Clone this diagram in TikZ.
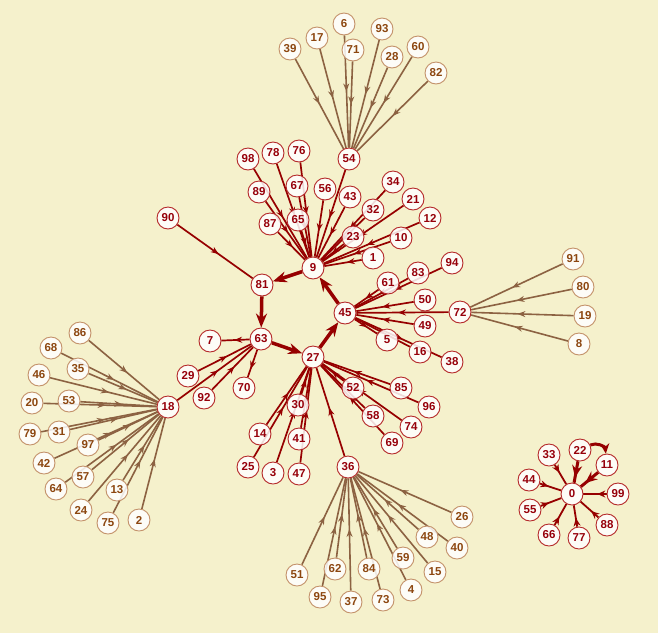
\documentclass[tikz,border=0pt]{standalone}
\usepackage{fontspec}
\setmainfont{Liberation Sans}
\usetikzlibrary{arrows.meta,decorations.markings,positioning}
\definecolor{bgc}{RGB}{245,241,204}
\definecolor{redc}{RGB}{150,0,0}
\definecolor{rborder}{RGB}{180,40,40}
\definecolor{rtext}{RGB}{150,0,10}
\definecolor{brc}{RGB}{140,98,66}
\definecolor{bborder}{RGB}{195,145,105}
\definecolor{btext}{RGB}{140,70,15}
\pgfdeclarelayer{bglayer}
\pgfdeclarelayer{edgelayer}
\pgfsetlayers{bglayer,edgelayer,main}
\newcommand\nodefnt{\fontsize{11.5}{11.5}\selectfont\bfseries}
\tikzset{
  x=1pt,y=-1pt,
  rn/.style={circle,draw=rborder,fill=white,fill opacity=0.85,text opacity=1,text=rtext,line width=0.9pt,minimum size=22pt,inner sep=0pt,font=\nodefnt},
  bn/.style={rn,draw=bborder,text=btext},
  midarr/.style={postaction={decorate},decoration={markings,mark=at position #1 with {\arrow{Stealth[length=8pt,width=6pt]}}}},
  midarr/.default=0.55,
  redge/.style={color=redc,line width=1.7pt,midarr=#1},
  redge/.default=0.55,
  bedge/.style={color=brc,line width=1.6pt,midarr=#1},
  bedge/.default=0.55,
  coreedge/.style={color=redc,line width=3.5pt,-{Stealth[length=14pt,width=11pt]}},
  zedge/.style={color=redc,line width=1.8pt,postaction={decorate},decoration={markings,mark=at position 0.4 with {\arrow{Stealth[length=8pt,width=7pt]}}}},
  zthick/.style={color=redc,line width=3pt,postaction={decorate},decoration={markings,mark=at position 0.75 with {\arrow{Stealth[length=12pt,width=10pt]}}}},
}
\begin{document}
\begin{tikzpicture}
\begin{pgfonlayer}{bglayer}
\fill[bgc] (0,0) rectangle (658,633);
\end{pgfonlayer}
\useasboundingbox (0,0) rectangle (658,633);
% top cluster around 54
\node[bn] (n39) at (290,49) {39};
\node[bn] (n17) at (317,38) {17};
\node[bn] (n6) at (344,24) {6};
\node[bn] (n71) at (353,50) {71};
\node[bn] (n93) at (382,29) {93};
\node[bn] (n28) at (392,57) {28};
\node[bn] (n60) at (418,47) {60};
\node[bn] (n82) at (436,73) {82};
\node[rn] (n54) at (349,159) {54};
% cluster 9
\node[rn] (n98) at (248,159) {98};
\node[rn] (n78) at (273,153) {78};
\node[rn] (n76) at (299,151) {76};
\node[rn] (n89) at (259,192) {89};
\node[rn] (n67) at (297,186) {67};
\node[rn] (n56) at (325,189) {56};
\node[rn] (n43) at (350,197) {43};
\node[rn] (n34) at (393,182) {34};
\node[rn] (n32) at (373,210) {32};
\node[rn] (n21) at (413,199) {21};
\node[rn] (n12) at (430,218) {12};
\node[rn] (n90) at (168,218) {90};
\node[rn] (n87) at (270,224) {87};
\node[rn] (n65) at (298,220) {65};
\node[rn] (n23) at (353,237) {23};
\node[rn] (n10) at (401,238) {10};
\node[rn] (n1) at (373,258) {1};
\node[rn] (n9) at (313,268) {9};
\node[rn] (n81) at (262,285) {81};
% cluster 45
\node[rn] (n94) at (452,263) {94};
\node[rn] (n83) at (418,273) {83};
\node[rn] (n61) at (388,283) {61};
\node[rn] (n50) at (425,300) {50};
\node[rn] (n45) at (345,313) {45};
\node[rn] (n72) at (460,312) {72};
\node[rn] (n49) at (425,326) {49};
\node[rn] (n5) at (387,340) {5};
\node[rn] (n16) at (420,352) {16};
\node[rn] (n38) at (452,362) {38};
\node[bn] (n91) at (573,259) {91};
\node[bn] (n80) at (583,287) {80};
\node[bn] (n19) at (585,316) {19};
\node[bn] (n8) at (579,344) {8};
% cluster 63 / 18
\node[rn] (n7) at (210,341) {7};
\node[rn] (n63) at (261,339) {63};
\node[rn] (n29) at (188,376) {29};
\node[rn] (n92) at (204,398) {92};
\node[rn] (n70) at (244,388) {70};
\node[rn] (n18) at (168,407) {18};
\node[bn] (n86) at (80,333) {86};
\node[bn] (n68) at (51,348) {68};
\node[bn] (n35) at (78,369) {35};
\node[bn] (n46) at (39,375) {46};
\node[bn] (n20) at (32,403) {20};
\node[bn] (n53) at (69,401) {53};
\node[bn] (n79) at (30,434) {79};
\node[bn] (n31) at (59,432) {31};
\node[bn] (n97) at (88,445) {97};
\node[bn] (n42) at (44,463) {42};
\node[bn] (n57) at (83,477) {57};
\node[bn] (n64) at (56,489) {64};
\node[bn] (n13) at (117,490) {13};
\node[bn] (n24) at (81,510) {24};
\node[bn] (n75) at (108,523) {75};
\node[bn] (n2) at (139,520) {2};
% cluster 27
\node[rn] (n27) at (313,357) {27};
\node[rn] (n30) at (298,405) {30};
\node[rn] (n14) at (260,434) {14};
\node[rn] (n41) at (299,439) {41};
\node[rn] (n25) at (248,467) {25};
\node[rn] (n3) at (273,473) {3};
\node[rn] (n47) at (299,474) {47};
\node[rn] (n52) at (353,388) {52};
\node[rn] (n85) at (401,388) {85};
\node[rn] (n96) at (429,407) {96};
\node[rn] (n58) at (373,416) {58};
\node[rn] (n74) at (411,427) {74};
\node[rn] (n69) at (392,443) {69};
\node[rn] (n36) at (348,467) {36};
% cluster 36
\node[bn] (n26) at (462,517) {26};
\node[bn] (n48) at (427,537) {48};
\node[bn] (n40) at (457,548) {40};
\node[bn] (n59) at (403,558) {59};
\node[bn] (n15) at (435,572) {15};
\node[bn] (n51) at (297,575) {51};
\node[bn] (n62) at (335,569) {62};
\node[bn] (n84) at (369,569) {84};
\node[bn] (n4) at (411,590) {4};
\node[bn] (n95) at (320,597) {95};
\node[bn] (n37) at (351,602) {37};
\node[bn] (n73) at (383,600) {73};
% cluster 0
\node[rn] (n33) at (549,455) {33};
\node[rn] (n22) at (580,450) {22};
\node[rn] (n11) at (607,465) {11};
\node[rn] (n44) at (529,480) {44};
\node[rn] (n0) at (572,494) {0};
\node[rn] (n99) at (618,494) {99};
\node[rn] (n55) at (530,510) {55};
\node[rn] (n88) at (607,525) {88};
\node[rn] (n66) at (549,535) {66};
\node[rn] (n77) at (579,538) {77};

\begin{pgfonlayer}{edgelayer}
% core cycle
\draw[coreedge] (n9) -- (n81);
\draw[coreedge] (n81) -- (n63);
\draw[coreedge] (n63) -- (n27);
\draw[coreedge] (n27) -- (n45);
\draw[coreedge] (n45) -- (n9);
\draw[redge] (n90) -- (n81);
% into 9
\foreach \s in {98,78,76,54,89,67,56,43,34,32,21,12,87,65,23,10}
  \draw[redge] (n\s) -- (n9);
\draw[redge=0.4] (n1) -- (n9);
% into 54
\foreach \s in {39,17,6,71,93,28,60,82}
  \draw[bedge=0.5] (n\s) -- (n54);
% 45
\foreach \s in {94,83,61,50,49,72}
  \draw[redge] (n\s) -- (n45);
\foreach \t in {5,16,38}
  \draw[redge] (n45) -- (n\t);
\foreach \s in {91,80,19,8}
  \draw[bedge] (n\s) -- (n72);
% 63
\draw[redge] (n63) -- (n7);
\draw[redge=0.7] (n63) -- (n70);
\foreach \s in {18,29,92}
  \draw[redge] (n\s) -- (n63);
\foreach \s in {86,68,35,46,20,53,79,31,97,42,57,64,13,24,75,2}
  \draw[bedge] (n\s) -- (n18);
% 27
\foreach \s in {14,25,3,30,41,47,36,52,58,69,74,85,96}
  \draw[redge] (n\s) -- (n27);
\foreach \s in {26,48,40,59,15,51,62,84,4,95,37,73}
  \draw[bedge] (n\s) -- (n36);
% 0
\foreach \s in {33,44,55,66,77,88,99}
  \draw[zedge] (n\s) -- (n0);
\draw[zthick] (n22) -- (n0);
\draw[zthick] (n11) -- (n0);
\draw[color=redc,line width=3pt,-{Stealth[length=10pt,width=9pt]}] (n22) to[bend left=55] (n11);
\end{pgfonlayer}
\end{tikzpicture}
\end{document}
